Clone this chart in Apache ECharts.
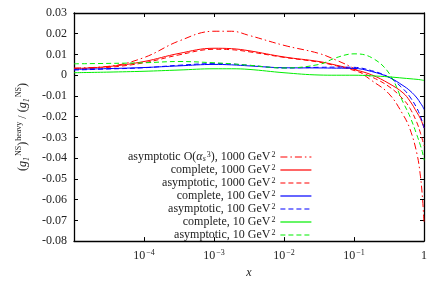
<!DOCTYPE html>
<html><head><meta charset="utf-8">
<script src="https://cdn.jsdelivr.net/npm/echarts@6/dist/echarts.min.js"></script>
<style>html,body{margin:0;padding:0;background:#fff}#c{width:441px;height:284px}</style>
</head><body><div id="c"></div>
<script>
// log10(x) sample positions
const logX = [-5, -4.5, -4, -3.5, -3, -2.75, -2.5, -2, -1.5, -1.25, -1, -0.75, -0.5, -0.3, -0.2, -0.1, -0.05, -0.02, 0];
const a3_1000 = [0.0035, 0.0043, 0.0085, 0.0165, 0.0212, 0.0212, 0.0192, 0.0144, 0.0105, 0.0072, 0.0032, -0.0025, -0.009, -0.019, -0.026, -0.038, -0.049, -0.060, -0.071];
const c_1000  = [0.0032, 0.0042, 0.0066, 0.0105, 0.0130, 0.0128, 0.0118, 0.0088, 0.0066, 0.0048, 0.0028, 0.0002, -0.0040, -0.0085, -0.0125, -0.0180, -0.0210, -0.0235, -0.0255];
const a_1000  = [0.0030, 0.0038, 0.0060, 0.0098, 0.0125, 0.0123, 0.0113, 0.0086, 0.0063, 0.0045, 0.0023, -0.0008, -0.0055, -0.0115, -0.0160, -0.0230, -0.0280, -0.0315, -0.0340];
const c_100   = [0.0028, 0.0032, 0.0037, 0.0045, 0.0052, 0.0050, 0.0045, 0.0036, 0.0035, 0.0034, 0.0033, 0.0018, -0.0010, -0.0050, -0.0075, -0.0110, -0.0135, -0.0150, -0.0165];
const a_100   = [0.0025, 0.0030, 0.0036, 0.0048, 0.0056, 0.0054, 0.0048, 0.0035, 0.0038, 0.0039, 0.0038, 0.0022, -0.0010, -0.0065, -0.0105, -0.0160, -0.0200, -0.0230, -0.0255];
const c_10    = [0.0012, 0.0015, 0.0019, 0.0025, 0.0031, 0.0031, 0.0028, 0.0012, 0.0001, 0.0000, 0.0000, -0.0003, -0.0008, -0.0014, -0.0017, -0.0020, -0.0022, -0.0024, -0.0025];
const a_10    = [0.0055, 0.0057, 0.0060, 0.0066, 0.0060, 0.0055, 0.0048, 0.0035, 0.0052, 0.0085, 0.0103, 0.0085, 0.0010, -0.0130, -0.0200, -0.0290, -0.0340, -0.0375, -0.0410];
const yTicks = [-0.08, 0.03, 0.01];

const names = ['a3_1000','c_1000','a_1000','c_100','a_100','c_10','a_10'];
const labels = {
  a3_1000: '{n|asymptotic O(}{i|α}{sub|s}{sup|3}{n|), 1000 GeV}{sup|2}',
  c_1000: '{n|complete, 1000 GeV}{sup|2}',
  a_1000: '{n|asymptotic, 1000 GeV}{sup|2}',
  c_100: '{n|complete, 100 GeV}{sup|2}',
  a_100: '{n|asymptotic, 100 GeV}{sup|2}',
  c_10: '{n|complete, 10 GeV}{sup|2}',
  a_10: '{n|asymptotic, 10 GeV}{sup|2}'
};
const dataArr = {a3_1000, c_1000, a_1000, c_100, a_100, c_10, a_10};
const colors = {a3_1000:'#ff0000', c_1000:'#ff0000', a_1000:'#ff0000', c_100:'#0000ff', a_100:'#0000ff', c_10:'#00ee00', a_10:'#00ee00'};
const dashes = {a3_1000:[7,3,1.5,3], c_1000:'solid', a_1000:[5,3], c_100:'solid', a_100:[5,3], c_10:'solid', a_10:[5,3]};

const font = 'Liberation Serif';
const mkRich = (lh) => ({
  n: {fontFamily: font, fontSize: 12, color: '#222', lineHeight: lh},
  i: {fontFamily: font, fontSize: 12, fontStyle: 'italic', color: '#222', lineHeight: lh},
  sup: {fontFamily: font, fontSize: 8, color: '#222', verticalAlign: 'top', padding: [0,0,0,1], lineHeight: lh},
  sub: {fontFamily: font, fontSize: 8, fontStyle: 'italic', color: '#222', verticalAlign: 'bottom', lineHeight: lh}
});
const LH = 13;
const legRich = {
  n: {fontFamily: font, fontSize: 12, color: '#222', lineHeight: LH},
  i: {fontFamily: font, fontSize: 12, fontStyle: 'italic', color: '#222', lineHeight: LH},
  sup: {fontFamily: font, fontSize: 8, color: '#222', padding: [0,0,5,1], lineHeight: 8},
  sub: {fontFamily: font, fontSize: 8, fontStyle: 'italic', color: '#222', padding: [4,0,0,0], lineHeight: 8}
};

const series = names.map(k => ({
  name: k, type: 'line', smooth: 0.4, symbol: 'none', showSymbol: false,
  lineStyle: {color: colors[k], width: 1, type: dashes[k]},
  itemStyle: {color: colors[k]},
  data: logX.map((lx, i) => [Math.pow(10, lx), dataArr[k][i]])
}));

const chart = echarts.init(document.getElementById('c'));
const axisLine = {show: true, onZero: false, lineStyle: {color: '#000', width: 1.3}};
const tick = {show: true, inside: true, length: 4, lineStyle: {color: '#000', width: 1}};
chart.setOption({
  animation: false,
  grid: {left: 74, right: 17, top: 13, bottom: 36},
  legend: {
    orient: 'vertical', right: 129, top: 150.5, align: 'right',
    itemWidth: 31, itemHeight: 8, itemGap: 0, padding: 0,
    data: names,
    itemStyle: {opacity: 0},
    lineStyle: {width: 1.2},
    formatter: n => labels[n],
    textStyle: {rich: legRich, fontFamily: font, fontSize: 12, lineHeight: LH}
  },
  xAxis: [{
    type: 'log', logBase: 10, min: 1e-5, max: 1, interval: 1,
    axisLine, axisTick: tick, splitLine: {show: false}, minorTick: {show: false},
    name: 'x', nameLocation: 'middle', nameGap: 24,
    nameTextStyle: {fontFamily: font, fontStyle: 'italic', fontSize: 12, color: '#222'},
    axisLabel: {
      margin: 8,
      formatter: v => {
        const e = Math.round(Math.log10(v));
        if (e === 0) return '{n|1}';
        if (e === -5) return '';
        return '{n|10}{sup|\u2212' + (-e) + '}';
      },
      rich: mkRich(14)
    }
  }, {
    type: 'log', logBase: 10, min: 1e-5, max: 1, interval: 1, position: 'top',
    axisLine, axisTick: tick, axisLabel: {show: false}, splitLine: {show: false}
  }],
  yAxis: [{
    type: 'value', min: yTicks[0], max: yTicks[1], interval: yTicks[2],
    axisLine, axisTick: tick, splitLine: {show: false},
    axisLabel: {
      margin: 7, fontFamily: font, fontSize: 12, color: '#222',
      formatter: v => Math.abs(v) < 1e-9 ? '0' : (+v.toFixed(2)).toString()
    },
    name: '{n|(}{i|g}{sub|1}{sup|NS}{n|)}{sup|heavy}{n| / (}{i|g}{sub|1}{sup|NS}{n|)}',
    nameLocation: 'middle', nameGap: 39, nameRotate: 90,
    nameTextStyle: {rich: mkRich(16)}
  }, {
    type: 'value', min: yTicks[0], max: yTicks[1], interval: yTicks[2], position: 'right',
    axisLine, axisTick: tick, axisLabel: {show: false}, splitLine: {show: false}
  }],
  series: series
});
</script></body></html>
